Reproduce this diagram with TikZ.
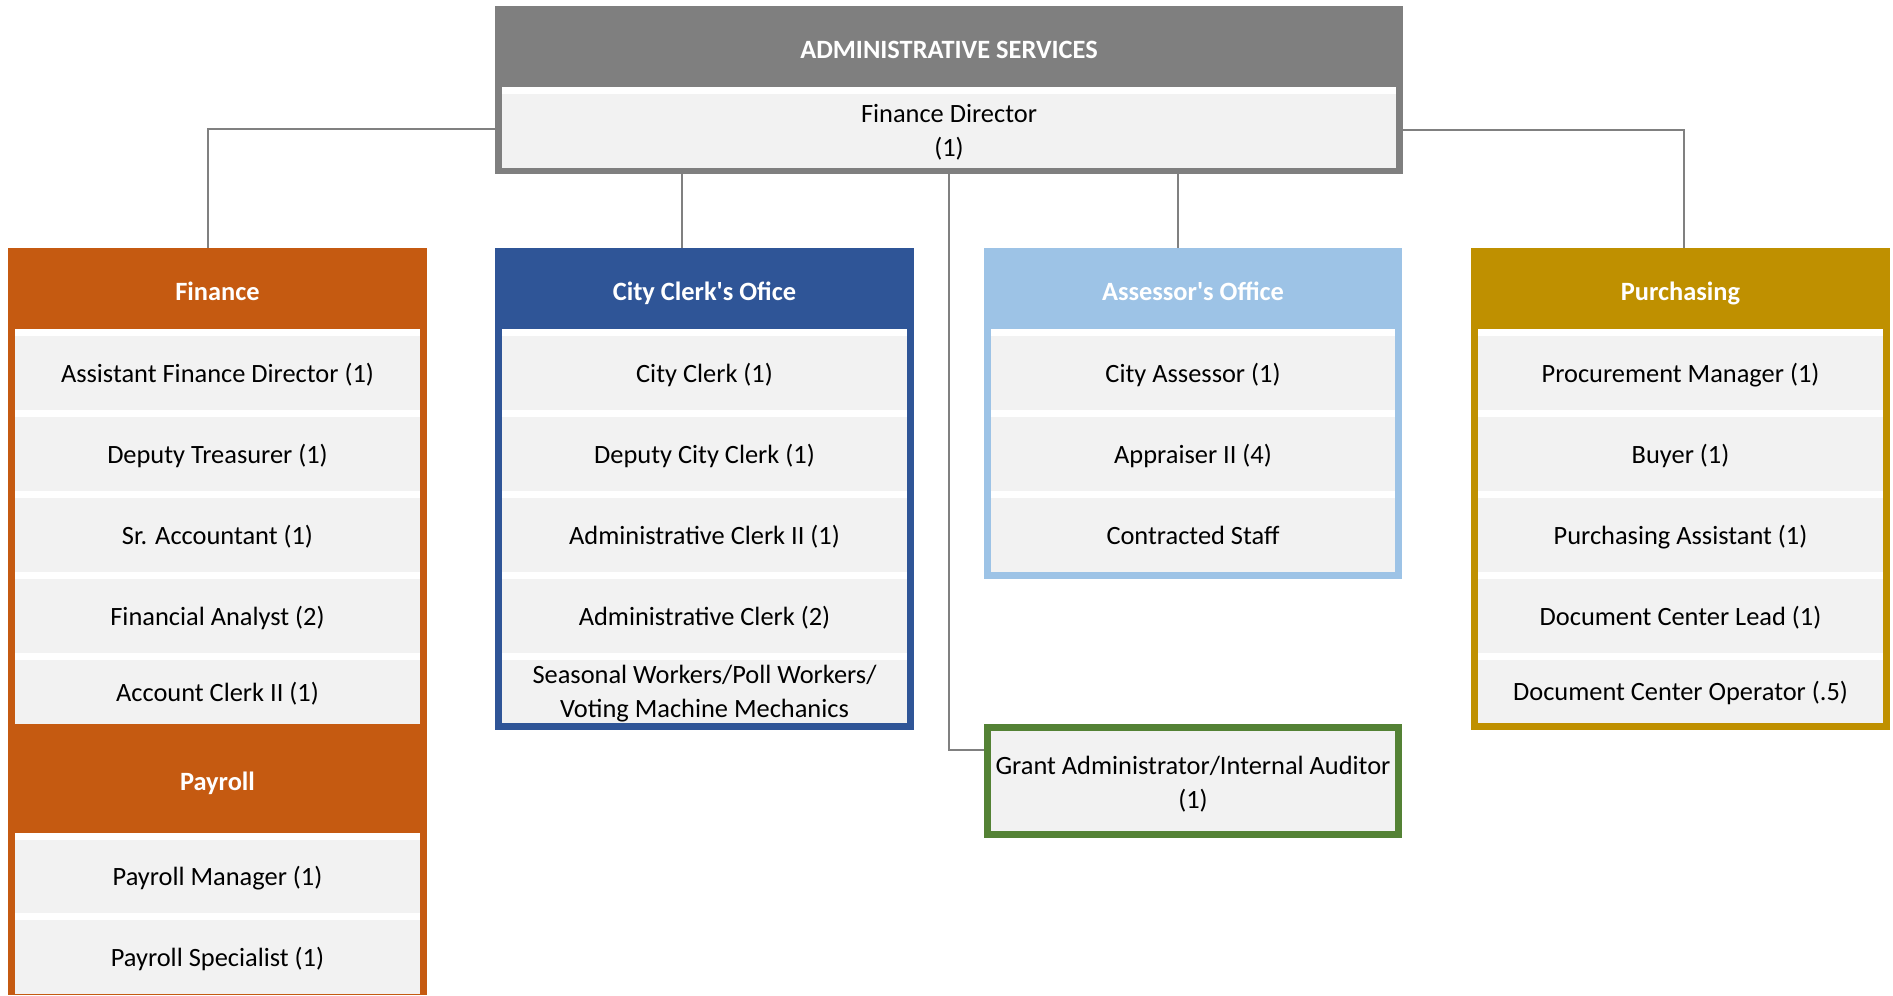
\documentclass[tikz,border=0pt]{standalone}
\usepackage{fontspec}
\setmainfont{Carlito}[Ligatures=TeXOff]
\definecolor{cOrange}{HTML}{C55A11}
\definecolor{cBlue}{HTML}{2F5597}
\definecolor{cLight}{HTML}{9DC3E6}
\definecolor{cGold}{HTML}{BF9000}
\definecolor{cGreen}{HTML}{548235}
\definecolor{cGray}{HTML}{7F7F7F}
\definecolor{cCell}{HTML}{F2F2F2}
\definecolor{cLine}{HTML}{808080}
% name, box style, x1, y1, x2, y2, text style, text
\newcommand\mybox[8]{%
  \pgfmathsetmacro\cx{(#3+#5)/2}\pgfmathsetmacro\cy{(#4+#6)/2}%
  \pgfmathsetmacro\ww{(#5-#3)*0.5}\pgfmathsetmacro\hh{(#6-#4)*0.5}%
  \node[#2, minimum width=\ww pt, minimum height=\hh pt] (#1) at (\cx,\cy) {};%
  \node[txt, #7] (#1-t) at (#1.center) {#8};}
\tikzset{
  base/.style={rectangle, inner sep=0pt, outer sep=0pt, draw=none},
  cell/.style={base, fill=cCell},
  gap/.style={base, fill=white},
  frame/.style={base, fill=#1},
  txt/.style={inner sep=0pt, outer sep=0pt, align=center, text=black,
    font=\fontsize{13.2}{17}\selectfont},
  one/.style={anchor=base, yshift=-4.5pt},
  two/.style={anchor=center, yshift=#1},
  hd/.style={anchor=base, yshift=-6pt, text=white,
    font=\fontsize{13.2}{17}\selectfont\bfseries},
  none/.style={},
  conn/.style={draw=cLine, line width=1.4pt}
}
\begin{document}
\begin{tikzpicture}[x=0.5pt,y=-0.5pt]
\useasboundingbox[fill=white] (0,0) rectangle (1893,995);
% ---------- connectors (drawn first, boxes cover their ends) ----------
\coordinate (lj) at (208,129);
\coordinate (rj) at (1684,130);
\coordinate (cj) at (682,0);
\coordinate (aj) at (1178,0);
\coordinate (gj) at (949,750);
\node[base, minimum width=454pt, minimum height=84pt] (top) at (949,90) {};
\node[base, minimum width=209.5pt, minimum height=373.5pt] (fin) at (217.5,621.5) {};
\node[base, minimum width=209.5pt, minimum height=241pt] (clk) at (704.5,489) {};
\node[base, minimum width=209pt, minimum height=165.5pt] (ass) at (1193,413.5) {};
\node[base, minimum width=209.5pt, minimum height=241pt] (pur) at (1680.5,489) {};
\node[base, minimum width=209pt, minimum height=57pt] (grant) at (1193,781) {};
\draw[conn] (top.west |- lj) -- (lj) -- (fin.north -| lj);
\draw[conn] (top.east |- rj) -- (rj) -- (pur.north -| rj);
\draw[conn] (top.south -| cj) -- (clk.north -| cj);
\draw[conn] (top.south -| aj) -- (ass.north -| aj);
\draw[conn] (top.south -| gj) -- (gj) -- (grant.west |- gj);
% ---------- top box ----------
\mybox{topf}{frame=cGray}{495}{6}{1403}{174}{none}{}
\mybox{tophead}{frame=cGray}{495}{6}{1403}{87}{hd}{ADMINISTRATIVE SERVICES}
\mybox{topgap}{gap}{502}{87}{1396}{94}{none}{}
\mybox{fd}{cell}{502}{94}{1396}{168}{two=-0.6pt}{Finance Director\\(1)}
% ---------- Finance ----------
\mybox{finf}{frame=cOrange}{8}{248}{427}{995}{none}{}
\mybox{finhead}{frame=cOrange}{8}{248}{427}{329}{hd}{Finance}
\mybox{fingap}{gap}{15}{329}{420}{724}{none}{}
\mybox{f1}{cell}{15}{336}{420}{410}{one}{Assistant Finance Director (1)}
\mybox{f2}{cell}{15}{417}{420}{491}{one}{Deputy Treasurer (1)}
\mybox{f3}{cell}{15}{498}{420}{572}{one}{Sr. Accountant (1)}
\mybox{f4}{cell}{15}{579}{420}{653}{one}{Financial Analyst (2)}
\mybox{f5}{cell}{15}{660}{420}{724}{one}{Account Clerk II (1)}
\mybox{payhead}{frame=cOrange}{8}{724}{427}{833}{hd}{Payroll}
\mybox{paygap}{gap}{15}{833}{420}{994}{none}{}
\mybox{p1}{cell}{15}{840}{420}{913}{one}{Payroll Manager (1)}
\mybox{p2}{cell}{15}{920}{420}{994}{one}{Payroll Specialist (1)}
% ---------- City Clerk ----------
\mybox{clkf}{frame=cBlue}{495}{248}{914}{730}{none}{}
\mybox{clkhead}{frame=cBlue}{495}{248}{914}{329}{hd}{City Clerk's Ofice}
\mybox{clkgap}{gap}{502}{329}{907}{723}{none}{}
\mybox{c1}{cell}{502}{336}{907}{410}{one}{City Clerk (1)}
\mybox{c2}{cell}{502}{417}{907}{491}{one}{Deputy City Clerk (1)}
\mybox{c3}{cell}{502}{498}{907}{572}{one}{Administrative Clerk II (1)}
\mybox{c4}{cell}{502}{579}{907}{653}{one}{Administrative Clerk (2)}
\mybox{c5}{cell}{502}{660}{907}{723}{two=-0.9pt}{Seasonal Workers/Poll Workers/\\Voting Machine Mechanics}
% ---------- Assessor ----------
\mybox{assf}{frame=cLight}{984}{248}{1402}{579}{none}{}
\mybox{asshead}{frame=cLight}{984}{248}{1402}{329}{hd}{Assessor's Office}
\mybox{assgap}{gap}{991}{329}{1395}{572}{none}{}
\mybox{a1}{cell}{991}{336}{1395}{410}{one}{City Assessor (1)}
\mybox{a2}{cell}{991}{417}{1395}{491}{one}{Appraiser II (4)}
\mybox{a3}{cell}{991}{498}{1395}{572}{one}{Contracted Staff}
% ---------- Purchasing ----------
\mybox{purf}{frame=cGold}{1471}{248}{1890}{730}{none}{}
\mybox{purhead}{frame=cGold}{1471}{248}{1890}{329}{hd}{Purchasing}
\mybox{purgap}{gap}{1478}{329}{1883}{723}{none}{}
\mybox{u1}{cell}{1478}{336}{1883}{410}{one}{Procurement Manager (1)}
\mybox{u2}{cell}{1478}{417}{1883}{491}{one}{Buyer (1)}
\mybox{u3}{cell}{1478}{498}{1883}{572}{one}{Purchasing Assistant (1)}
\mybox{u4}{cell}{1478}{579}{1883}{653}{one}{Document Center Lead (1)}
\mybox{u5}{cell}{1478}{660}{1883}{723}{one}{Document Center Operator (.5)}
% ---------- Grant ----------
\mybox{grantf}{frame=cGreen}{984}{724}{1402}{838}{none}{}
\mybox{grantin}{cell}{991}{731}{1395}{831}{two=-1.8pt}{Grant Administrator/Internal Auditor\\(1)}
\end{tikzpicture}
\end{document}
